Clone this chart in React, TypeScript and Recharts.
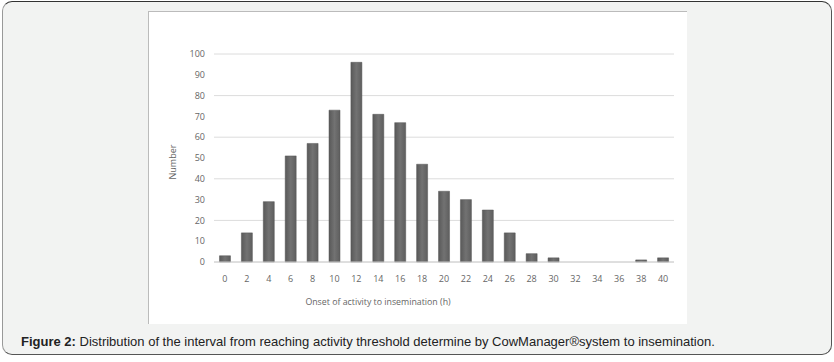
import { BarChart, Bar, XAxis, YAxis, CartesianGrid } from 'recharts';

// hours from onset of activity to insemination
const hours = ['0', '2', '4', '6', '8', '10', '12', '14', '16', '18', '20', '22', '24', '26', '28', '30', '32', '34', '36', '38', '40'];
const counts = [3, 14, 29, 51, 57, 73, 96, 71, 67, 47, 34, 30, 25, 14, 4, 2, 0, 0, 0, 1, 2];
const yTicks = [0, 10, 20, 30, 40, 50, 60, 70, 80, 90, 100];

const data = hours.map((h, i) => ({ h, n: counts[i] }));

const tickFont = { fontSize: 9, fill: '#666', fontFamily: 'Open Sans, sans-serif' };

export default function App() {
  return (
    <div style={{ position: 'absolute', left: 0, top: 0, width: 834, height: 362, background: '#fff' }}>
      <div
        style={{
          position: 'absolute', left: 2, top: 1, width: 828, height: 352,
          background: '#f2f3f2', border: '1px solid #555', borderTopColor: '#333',
          borderLeftColor: '#999', borderRadius: 10,
        }}
      />
      <div
        style={{
          position: 'absolute', left: 148, top: 11, width: 538, height: 312,
          background: '#fff', borderTop: '1px solid #bbb', borderLeft: '1px solid #bbb',
        }}
      >
        <BarChart width={538} height={311} data={data} margin={{ top: 42, right: 13, left: 20, bottom: 31 }} barCategoryGap="25%">
          <defs>
            <linearGradient id="barFill" x1="0" y1="0" x2="1" y2="0">
              <stop offset="0%" stopColor="#595959" />
              <stop offset="50%" stopColor="#727272" />
              <stop offset="100%" stopColor="#5e5e5e" />
            </linearGradient>
          </defs>
          <CartesianGrid vertical={false} stroke="#dcdcdc" />
          <XAxis
            dataKey="h"
            tickLine={false}
            axisLine={{ stroke: '#d0d0d0' }}
            tickSize={0}
            tickMargin={14}
            height={30}
            tick={tickFont}
            interval={0}
            label={{ value: 'Onset of activity to insemination (h)', position: 'insideBottom', offset: -13, dx: -66, style: { ...tickFont, fontSize: 8.8 } }}
          />
          <YAxis
            domain={[0, 100]}
            ticks={yTicks}
            tickLine={false}
            axisLine={false}
            tickSize={0}
            tickMargin={9}
            width={45}
            tick={tickFont}
            label={{ value: 'Number', angle: -90, position: 'insideLeft', dx: -1, dy: 4, style: { ...tickFont, textAnchor: 'middle' } }}
          />
          <Bar dataKey="n" fill="url(#barFill)" stroke="#555" strokeWidth={0.5} isAnimationActive={false} />
        </BarChart>
      </div>
      <div
        style={{
          position: 'absolute', left: 21, top: 334, whiteSpace: 'nowrap',
          fontFamily: 'Liberation Sans, Arial, sans-serif',
          fontSize: 13, color: '#222',
        }}
      >
        <b>Figure 2:</b> Distribution of the interval from reaching activity threshold determine by CowManager®system to insemination.
      </div>
    </div>
  );
}
